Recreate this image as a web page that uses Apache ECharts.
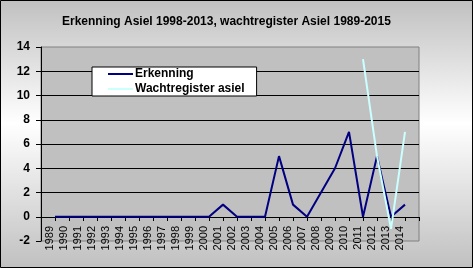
<!DOCTYPE html>
<html>
<head>
<meta charset="utf-8">
<script src="https://cdn.jsdelivr.net/npm/echarts@6/dist/echarts.min.js"></script>
<style>
html,body{margin:0;padding:0;background:#fff;}
#chart{width:473px;height:268px;}
</style>
</head>
<body>
<div id="chart"></div>
<script>
var years = ['1989','1990','1991','1992','1993','1994','1995','1996','1997','1998','1999','2000','2001','2002','2003','2004','2005','2006','2007','2008','2009','2010','2011','2012','2013','2014'];
var erkenning = [0,0,0,0,0,0,0,0,0,0,0,0,1,0,0,0,5,1,0,2,4,7,0,5,0,1];
var wachtregister = [null,null,null,null,null,null,null,null,null,null,null,null,null,null,null,null,null,null,null,null,null,null,13,5,-1,7];
var yTicks = [-2,0,2,4,6,8,10,12,14];

var cats = [''].concat(years).concat(['']);
var s1 = [null].concat(erkenning).concat([null]);
var s2 = [null].concat(wachtregister).concat([null]);

var chart = echarts.init(document.getElementById('chart'));
chart.setOption({
  animation: false,
  backgroundColor: new echarts.graphic.LinearGradient(0,0,0,1,[
    {offset:0,color:'#c0c0c0'},{offset:0.46,color:'#ffffff'},{offset:1,color:'#c0c0c0'}
  ]),
  textStyle:{fontFamily:'Liberation Sans, Arial, sans-serif'},
  title:{
    text:'Erkenning Asiel 1998-2013, wachtregister Asiel 1989-2015',
    left:62, top:16, padding:0,
    textStyle:{fontSize:12,fontWeight:'bold',color:'#000',fontFamily:'Liberation Sans, Arial, sans-serif'}
  },
  legend:{
    orient:'vertical', left:92, top:67,
    backgroundColor:'#ffffff', borderColor:'#000', borderWidth:1,
    padding:[1,12,1,15], itemGap:3, itemWidth:25, itemHeight:14, itemStyle:{opacity:0},
    textStyle:{fontSize:12,fontWeight:'bold',color:'#000',padding:[0,0,0,-3]},
    data:['Erkenning','Wachtregister asiel']
  },
  graphic:[{type:'rect',shape:{x:0.5,y:0.5,width:472,height:267},style:{fill:'none',stroke:'#000',lineWidth:1},z:100}],
  grid:{left:41,top:47,right:54,bottom:27,show:true,backgroundColor:'#c0c0c0',borderColor:'#808080',borderWidth:1,containLabel:false,outerBoundsMode:'none'},
  xAxis:{
    type:'category', data:cats, boundaryGap:false, position:'bottom', offset:-24,
    axisLine:{onZero:false,lineStyle:{color:'#000',width:1}},
    axisTick:{show:true,interval:0,length:4,lineStyle:{color:'#000'}},
    axisLabel:{interval:0,rotate:90,fontSize:11,color:'#000',margin:9,verticalAlign:'bottom'},
    splitLine:{show:false}
  },
  yAxis:{
    type:'value', min:-2, max:14, interval:2,
    axisLine:{show:true,lineStyle:{color:'#000',width:1}},
    axisTick:{show:true,length:5,lineStyle:{color:'#000'}},
    axisLabel:{fontSize:12,fontWeight:'bold',color:'#000',margin:11,
      formatter:function(v){return yTicks.indexOf(v)>=0?String(v):'';}},
    splitLine:{show:true,showMinLine:false,showMaxLine:false,lineStyle:{color:'#000',width:1}}
  },
  series:[
    {name:'Erkenning',type:'line',data:s1,symbol:'none',connectNulls:false,
     lineStyle:{color:'#000080',width:2},itemStyle:{color:'#000080'},z:2},
    {name:'Wachtregister asiel',type:'line',data:s2,symbol:'none',connectNulls:false,
     lineStyle:{color:'#ccffff',width:2},itemStyle:{color:'#ccffff'},z:3}
  ]
});
</script>
</body>
</html>
